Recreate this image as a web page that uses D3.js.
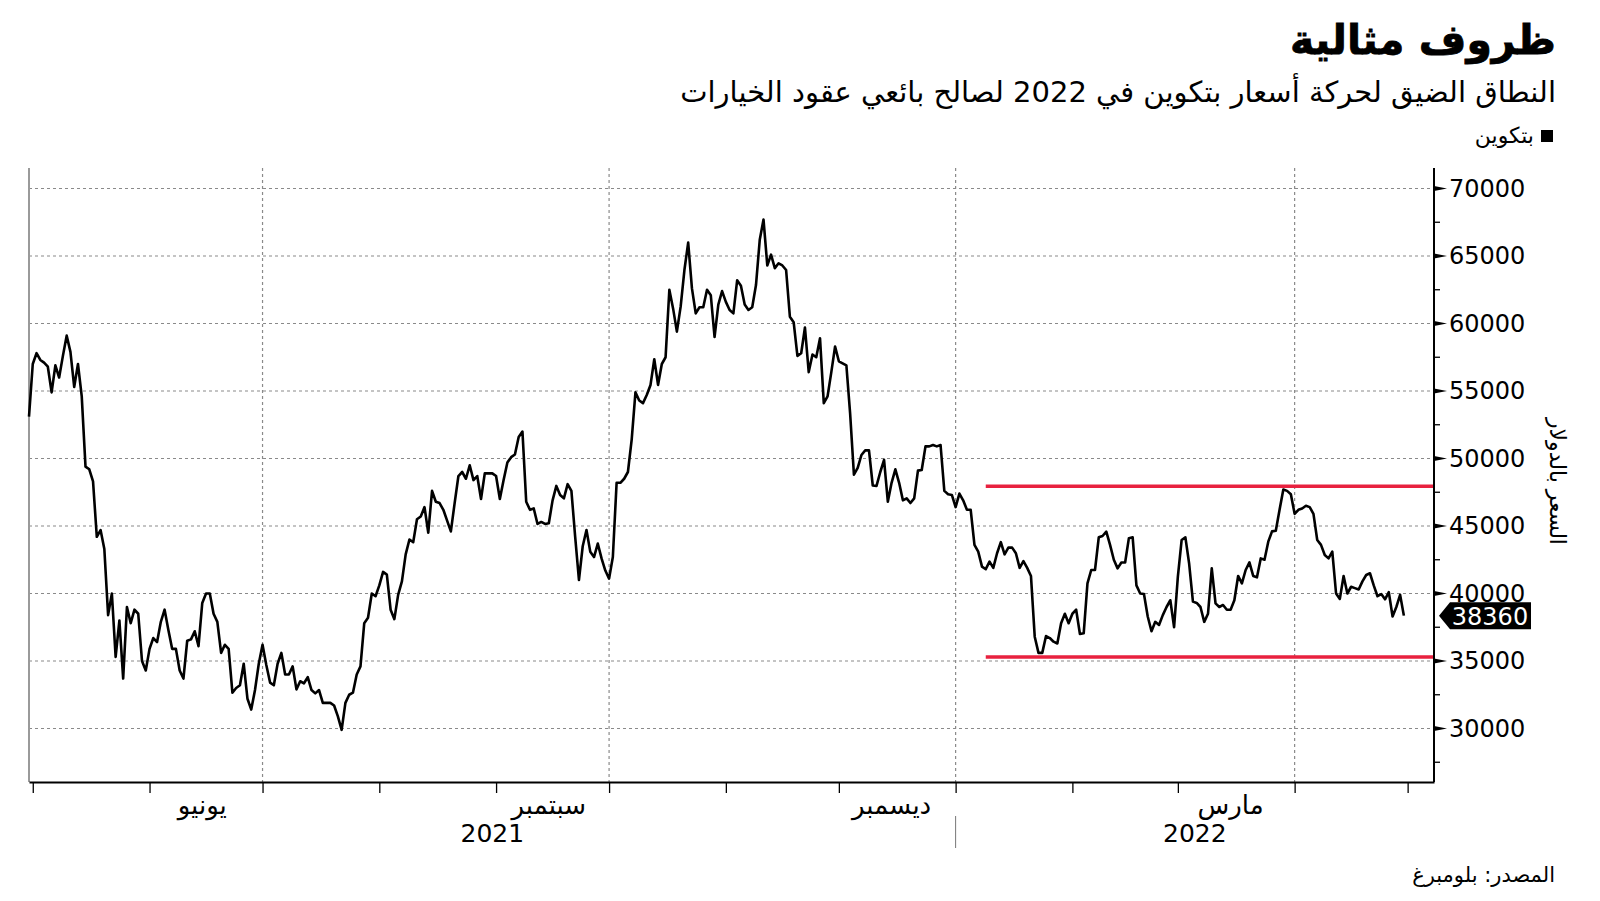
<!DOCTYPE html>
<html>
<head>
<meta charset="utf-8">
<script src="https://cdn.jsdelivr.net/npm/d3@7"></script>
<style>
  html, body { margin: 0; padding: 0; background: #ffffff; }
  svg { display: block; }
  text { font-family: "DejaVu Sans", sans-serif; }
</style>
</head>
<body>
<svg id="chart" width="1600" height="901"></svg>
<script>
// ---------------- DATA ----------------
const titleText = "ظروف مثالية";
const subtitleText = "النطاق الضيق لحركة أسعار بتكوين في 2022 لصالح بائعي عقود الخيارات";
const legendLabel = "بتكوين";
const axisTitle = "السعر بالدولار";
const sourceText = "المصدر: بلومبرغ";

const startDate = "2021-04-30";   // first daily observation
const domainEnd = "2022-05-08";   // right end of the time axis

// Bitcoin daily price (USD)
const priceValues = [
  53100, 57000, 57800, 57300, 57100, 56800, 54900, 56900, 56000, 57600, 59100, 57900, 55300, 57000, 54600, 49400,
  49200, 48300, 44200, 44700, 43300, 38400, 40000, 35300, 38000, 33700, 39000, 37800, 38800, 38500, 35000, 34300,
  35900, 36700, 36400, 37900, 38800, 37300, 35900, 35900, 34300, 33700, 36500, 36600, 37200, 36100, 39300, 40000,
  40000, 38500, 37900, 35600, 36200, 35900, 32650, 33000, 33200, 34800, 32200, 31400, 32850, 34800, 36200, 34700,
  33400, 33200, 34800, 35600, 34000, 34000, 34600, 32900, 33500, 33350, 33800, 32850, 32600, 32850, 31900, 31900,
  31900, 31700, 30900, 29900, 31900, 32500, 32650, 34000, 34600, 37800, 38200, 40000, 39800, 40600,
  41600, 41400, 38800, 38100, 39900, 40900, 42900, 44000, 43800, 45500, 45700, 46400, 44500, 47600, 46800, 46700,
  46200, 45400, 44600, 46700, 48700, 49000, 48500, 49500, 48400, 48700, 47000, 48900, 48900, 48900, 48700, 47000,
  48400, 49700, 50100, 50300, 51600, 52000, 46800, 46200, 46300, 45150, 45300, 45150,
  45200, 46900, 47970, 47300, 47050, 48100, 47600, 44200, 41000, 43500, 44700, 43100, 42700, 43700, 42600, 41700,
  41100, 42700, 48200, 48200, 48500, 49000, 51400, 54900, 54300, 54100, 54700, 55450, 57350, 55450, 57000, 57500,
  62500, 61100, 59400, 61250, 63960, 65990, 62600, 60750, 61200, 61200, 62500, 62100,
  59000, 61400, 62400, 61600, 61000, 60750, 63200, 62800, 61400, 61000, 61200, 62850, 66200, 67700, 64300, 65100,
  64100, 64460, 64300, 63960, 60500, 60100, 57600, 57800, 59700, 56400, 57700, 57500, 58900, 54100, 54600, 56400,
  58300, 57200, 57050, 56900, 53300, 48800, 49300, 50260, 50600, 50600, 48000,
  47970, 49000, 49900, 46800, 48200, 49200, 48200, 46900, 47050, 46700, 47050, 49100, 49150, 50900, 50900, 51000,
  50900, 51000, 47600, 47350, 47300, 46400, 47400, 46900, 46200, 46200, 43600, 43100, 41990, 41800, 42360, 41900,
  42980, 43800, 42900, 43400, 43400, 42980, 41900, 42400, 41900, 41300, 36800, 35600, 35600, 36850,
  36700, 36430, 36300, 37800, 38500, 37800, 38500, 38800, 37000, 37050, 40750, 41740, 41740, 44160, 44260, 44580,
  43600, 42500, 41860, 42300, 42300, 44100, 44160, 40600, 40000, 39960, 38300, 37200, 37900, 37670, 38400, 39000,
  39500, 37500, 41250, 43960, 44160, 42200, 39400, 39300, 39000, 37900, 38500, 41860, 39270,
  39000, 39150, 38800, 38800, 39500, 41300, 40750, 41740, 42300, 41300, 41200, 42600, 42500, 43840, 44600, 44650,
  46200, 47700, 47600, 47350, 45900, 46200, 46300, 46500, 46400, 45900, 43960, 43600, 42850, 42600, 43100, 40000,
  39600, 41300, 40000, 40500, 40400, 40300, 40900, 41370, 41500, 40600, 39800, 39960, 39570, 40100, 38300, 39000,
  39900, 38360
];
const lastValue = 38360;

const yTicks = [30000, 35000, 40000, 45000, 50000, 55000, 60000, 65000, 70000];
const yMinorTicks = [27500, 32500, 37500, 42500, 47500, 52500, 57500, 62500, 67500];

const monthTicks = ["2021-05-01", "2021-06-01", "2021-07-01", "2021-08-01", "2021-09-01", "2021-10-01",
  "2021-11-01", "2021-12-01", "2022-01-01", "2022-02-01", "2022-03-01", "2022-04-01", "2022-05-01"];
const quarterGrid = ["2021-07-01", "2021-10-01", "2022-01-01", "2022-04-01"];
const monthLabelDates = ["2021-06-15", "2021-09-15", "2021-12-15", "2022-03-15"];
const monthLabelNames = ["يونيو", "سبتمبر", "ديسمبر", "مارس"];
const yearLabels = ["2021", "2022"];
const yearSplit = "2022-01-01";

const rangeLevels = [47950, 35300];   // trading range lines
const rangeStart = "2022-01-09";

// ---------------- LAYOUT ----------------
const W = 1600, H = 901;
const plotLeft = 29, plotRight = 1434, plotTop = 168, plotBottom = 782;

const parse = d3.utcParse("%Y-%m-%d");
const t0 = parse(startDate);
const series = priceValues.map((v, i) => ({ date: d3.utcDay.offset(t0, i), value: v }));

const x = d3.scaleUtc().domain([t0, parse(domainEnd)]).range([plotLeft, plotRight]);
const y = d3.scaleLinear().domain([30000, 70000]).range([728.5, 188.5]);

const svg = d3.select("#chart");
svg.append("rect").attr("width", W).attr("height", H).attr("fill", "#ffffff");

// Horizontal grid
svg.append("g").selectAll("line").data(yTicks).join("line")
  .attr("x1", plotLeft).attr("x2", plotRight)
  .attr("y1", d => y(d)).attr("y2", d => y(d))
  .attr("stroke", "#8a8a8a").attr("stroke-width", 1.2).attr("stroke-dasharray", "3,3");

// Vertical grid (quarter boundaries)
svg.append("g").selectAll("line").data(quarterGrid.map(parse)).join("line")
  .attr("x1", d => x(d)).attr("x2", d => x(d))
  .attr("y1", plotTop).attr("y2", plotBottom)
  .attr("stroke", "#8a8a8a").attr("stroke-width", 1.2).attr("stroke-dasharray", "3,3");

// Left frame line
svg.append("line").attr("x1", plotLeft).attr("x2", plotLeft).attr("y1", plotTop).attr("y2", plotBottom)
  .attr("stroke", "#9a9a9a").attr("stroke-width", 2);

// Range lines (red)
svg.append("g").selectAll("line").data(rangeLevels).join("line")
  .attr("x1", x(parse(rangeStart))).attr("x2", plotRight)
  .attr("y1", d => y(d)).attr("y2", d => y(d))
  .attr("stroke", "#e8213f").attr("stroke-width", 3.5);

// Price line
const line = d3.line().x(d => x(d.date)).y(d => y(d.value));
svg.append("path").datum(series)
  .attr("d", line).attr("fill", "none")
  .attr("stroke", "#000").attr("stroke-width", 2.6).attr("stroke-linejoin", "round");

// Bottom axis
const xAxis = d3.axisBottom(x).tickValues(monthTicks.map(parse)).tickSize(11).tickSizeOuter(0).tickFormat("");
const gx = svg.append("g").attr("transform", `translate(0,${plotBottom})`).call(xAxis);
gx.select(".domain").attr("stroke", "#000").attr("stroke-width", 2);
gx.selectAll(".tick line").attr("stroke", "#000").attr("stroke-width", 1.3);

// Month labels
svg.append("g").selectAll("text").data(monthLabelDates.map(parse)).join("text")
  .attr("x", d => x(d)).attr("y", 814)
  .attr("text-anchor", "middle").attr("font-size", 26).attr("fill", "#000")
  .text((d, i) => monthLabelNames[i]);

// Year labels
const split = parse(yearSplit);
const yearCenters = [
  (x(t0) + x(split)) / 2,
  (x(split) + x(parse(domainEnd))) / 2
];
svg.append("g").selectAll("text").data(yearLabels).join("text")
  .attr("x", (d, i) => yearCenters[i]).attr("y", 842)
  .attr("text-anchor", "middle").attr("font-size", 25).attr("fill", "#000")
  .text(d => d);
svg.append("line").attr("x1", x(split)).attr("x2", x(split)).attr("y1", 816).attr("y2", 848)
  .attr("stroke", "#777").attr("stroke-width", 1);

// Right axis
const yAxis = d3.axisRight(y).tickValues(yTicks).tickSize(0).tickPadding(15).tickFormat(d3.format("d"));
const gy = svg.append("g").attr("transform", `translate(${plotRight},0)`).call(yAxis);
gy.select(".domain").remove();
gy.selectAll(".tick text").attr("font-size", 24).attr("fill", "#000")
  .attr("font-family", "DejaVu Sans, sans-serif");
svg.append("line").attr("x1", plotRight).attr("x2", plotRight).attr("y1", plotTop).attr("y2", plotBottom)
  .attr("stroke", "#000").attr("stroke-width", 2);
// wedge ticks
svg.append("g").selectAll("path").data(yTicks).join("path")
  .attr("d", d => `M${plotRight},${y(d) - 2.5}L${plotRight + 13},${y(d)}L${plotRight},${y(d) + 2.5}Z`)
  .attr("fill", "#000");
svg.append("g").selectAll("line").data(yMinorTicks).join("line")
  .attr("x1", plotRight).attr("x2", plotRight + 6)
  .attr("y1", d => y(d)).attr("y2", d => y(d))
  .attr("stroke", "#000").attr("stroke-width", 1.3);

// Axis title (rotated)
svg.append("text")
  .attr("transform", `translate(1550,${y(48300)}) rotate(90)`)
  .attr("text-anchor", "middle").attr("font-size", 22).attr("fill", "#000")
  .text(axisTitle);

// Last value tag
const ty = y(lastValue);
const tag = svg.append("g");
tag.append("path")
  .attr("d", `M${plotRight + 5},${ty}L${plotRight + 16},${ty - 13.5}L${plotRight + 97},${ty - 13.5}L${plotRight + 97},${ty + 13.5}L${plotRight + 16},${ty + 13.5}Z`)
  .attr("fill", "#000");
tag.append("text").attr("x", plotRight + 56).attr("y", ty + 9)
  .attr("text-anchor", "middle").attr("font-size", 24).attr("fill", "#fff")
  .text(d3.format("d")(lastValue));

// Title, subtitle, legend, source
svg.append("text").attr("x", 1556).attr("y", 54)
  .attr("text-anchor", "end").attr("font-size", 41).attr("font-weight", "bold").attr("fill", "#000")
  .attr("stroke", "#000").attr("stroke-width", 0.8)
  .text(titleText);
svg.append("text").attr("x", 1556).attr("y", 102)
  .attr("text-anchor", "end").attr("font-size", 29).attr("fill", "#000")
  .text(subtitleText);
svg.append("rect").attr("x", 1541).attr("y", 130).attr("width", 12).attr("height", 12).attr("fill", "#000");
svg.append("text").attr("x", 1534).attr("y", 143)
  .attr("text-anchor", "end").attr("font-size", 22).attr("fill", "#000")
  .text(legendLabel);
svg.append("text").attr("x", 1555).attr("y", 882)
  .attr("text-anchor", "end").attr("font-size", 21).attr("fill", "#000")
  .text(sourceText);
</script>
</body>
</html>
